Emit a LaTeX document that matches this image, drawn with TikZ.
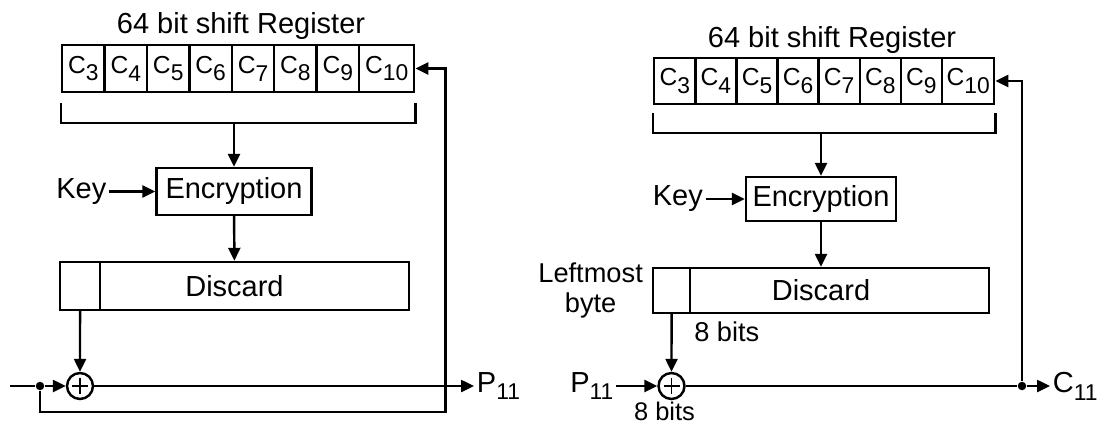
\documentclass[tikz,border=0pt]{standalone}
\usepackage{fontspec}
\setmainfont{Liberation Sans}
\usetikzlibrary{arrows.meta,positioning}

\newcommand\lowsub[2][13]{\raisebox{-4.5pt}{\fontsize{#1}{#1}\selectfont #2}}

\begin{document}
\begin{tikzpicture}[
  x=0.02cm, y=-0.02cm,
  line width=1.4pt,
  arr/.style={-{Triangle[length=2.6mm,width=2.4mm]}},
  cell/.style={draw, anchor=west, inner sep=0pt, font=\fontsize{14}{16}\selectfont},
  blk/.style={draw, inner sep=0pt, font=\fontsize{16.5}{19}\selectfont},
  lbl/.style={inner sep=1pt, font=\fontsize{16.5}{19}\selectfont},
  sml/.style={inner sep=1pt, font=\fontsize{15.5}{17}\selectfont},
  xor/.style={draw, circle, minimum size=0.52cm, inner sep=0pt,
    path picture={
      \draw[line width=1.1pt] ([yshift=-0.1cm]path picture bounding box.north) -- ([yshift=0.1cm]path picture bounding box.south);
      \draw[line width=1.1pt] ([xshift=0.1cm]path picture bounding box.west) -- ([xshift=-0.1cm]path picture bounding box.east);}},
  dot/.style={circle, fill, minimum size=0.17cm, inner sep=0pt}
]
\useasboundingbox (0,0) rectangle (1099,426);

% left: output feedback
\node[lbl] (ltitle) at (241,26) {64 bit shift Register};
\foreach \i [count=\k from 0] in {3,...,9}
  \node[cell, minimum width=0.848cm, minimum height=0.94cm] (L\i) at ({61+42.4*\k},68.5) {C\lowsub{\i}};
\node[cell, minimum width=1.1cm, minimum height=0.94cm] (L10) at (358,68.5) {C\lowsub{10}};

\coordinate (lbrk) at ([yshift=-0.6cm]L3.south west);
\draw ([yshift=-0.2cm]L3.south west) -- (lbrk) -| ([yshift=-0.2cm]L10.south east);

\node[blk, minimum width=3.1cm, minimum height=0.94cm] (lenc) at (234,191.5) {Encryption};
\node[lbl, left=0.92cm of lenc] (lkey) {Key};
\node[blk, minimum width=6.98cm, minimum height=0.96cm] (ldisc) at (234.5,286) {Discard};
\node[draw, anchor=west, minimum width=0.8cm, minimum height=0.96cm] (lbyte) at (ldisc.west) {};
\node[xor] (lxor) at (80,386) {};
\node[dot] (lsplit) at (40,386) {};
\coordinate (lin) at (10,386);
\node[lbl, anchor=west] (lp) at (474,386) {P\lowsub{11}};

\draw[arr] (lenc.north |- lbrk) -- (lenc.north);
\draw[arr] (lkey) -- (lenc);
\draw[arr] (lenc) -- (ldisc);
\draw[arr] (lbyte) -- (lxor);
\draw (lin) -- (lsplit);
\draw[arr] (lsplit) -- (lxor);
\draw[arr] (lxor) -- (lp);
\draw[arr] (lsplit) -- ++(0,26) -| ([xshift=0.6cm]L10.east) -- (L10.east);

% right: cipher feedback
\node[lbl] (rtitle) at (832,40) {64 bit shift Register};
\foreach \i [count=\k from 0] in {3,...,9}
  \node[cell, minimum width=0.822cm, minimum height=0.92cm] (R\i) at ({653+41.1*\k},81) {C\lowsub{\i}};
\node[cell, minimum width=1.04cm, minimum height=0.92cm] (R10) at (941,81) {C\lowsub{10}};

\coordinate (rbrk) at ([yshift=-0.56cm]R3.south west);
\draw ([yshift=-0.16cm]R3.south west) -- (rbrk) -| ([yshift=-0.16cm]R10.south east);

\node[blk, minimum width=3.0cm, minimum height=0.88cm] (renc) at (821,199) {Encryption};
\node[lbl, left=0.78cm of renc] (rkey) {Key};
\node[blk, minimum width=6.72cm, minimum height=0.9cm] (rdisc) at (821,290.5) {Discard};
\node[draw, anchor=west, minimum width=0.74cm, minimum height=0.9cm] (rbyte) at (rdisc.west) {};
\node[sml, align=center, left=0.12cm of rbyte] (rlabel) {Leftmost\\byte};
\node[sml, anchor=north west] (rbits) at ([yshift=-0.1cm]rbyte.south east) {8 bits};
\node[xor] (rxor) at (671.5,386) {};
\node[inner sep=0pt, font=\fontsize{14.5}{16}\selectfont, below=0.02cm of rxor, xshift=-0.14cm] (rbits2) {8 bits};
\node[lbl, left=0.82cm of rxor] (rp) {P\lowsub{11}};
\node[dot] (rsplit) at (1022,386) {};
\node[lbl, anchor=west] (rc) at (1050,386) {C\lowsub{11}};

\draw[arr] (renc.north |- rbrk) -- (renc.north);
\draw[arr] (rkey) -- (renc);
\draw[arr] (renc) -- (rdisc);
\draw[arr] (rbyte) -- (rxor);
\draw[arr] (rp) -- (rxor);
\draw (rxor) -- (rsplit);
\draw[arr] (rsplit) -- (rc);
\draw[arr] (rsplit) |- (R10.east);

\end{tikzpicture}
\end{document}
